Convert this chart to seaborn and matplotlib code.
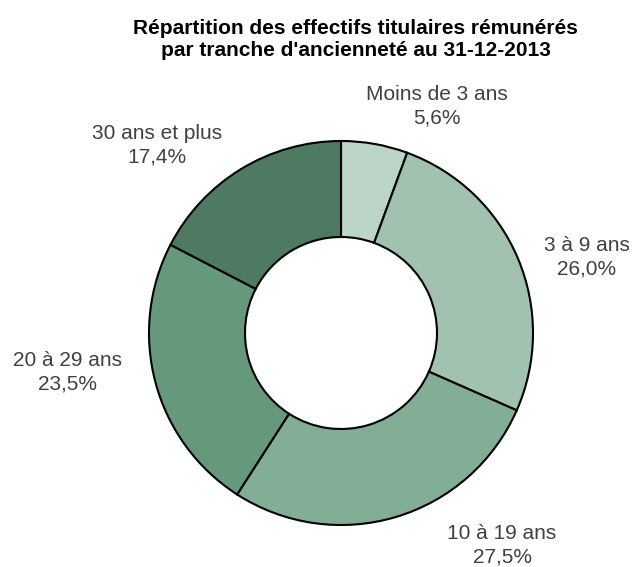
import matplotlib
matplotlib.use("Agg")
import matplotlib.pyplot as plt
import seaborn as sns

sns.set_theme(style="white")
plt.rcParams['font.family'] = ['Liberation Sans', 'DejaVu Sans']

categories = ["Moins de 3 ans", "3 à 9 ans", "10 à 19 ans", "20 à 29 ans", "30 ans et plus"]
values = [5.6, 26.0, 27.5, 23.5, 17.4]
labels_pct = ["5,6%", "26,0%", "27,5%", "23,5%", "17,4%"]
colors = ["#BDD5C6", "#A0C2AE", "#82AE95", "#66997B", "#4F7A62"]
label_pos = [(0.50, 1.182), (1.281, 0.396), (0.839, -1.104), (-1.427, -0.203), (-0.958, 0.979)]
title_lines = ["Répartition des effectifs titulaires rémunérés",
               "par tranche d'ancienneté au 31-12-2013"]

W, H = 632, 567
cx, cy, r = 341, 333, 192
fig = plt.figure(figsize=(W / 100, H / 100), dpi=100)
fig.patch.set_facecolor("white")
ax = fig.add_axes([(cx - r) / W, (H - cy - r) / H, 2 * r / W, 2 * r / H])
ax.pie(values, colors=colors, startangle=90, counterclock=False,
       wedgeprops=dict(width=0.5, edgecolor="black", linewidth=1.5))
ax.set_xlim(-1, 1)
ax.set_ylim(-1, 1)
ax.set_aspect("equal")
ax.axis("off")

for cat, pct, (x, y) in zip(categories, labels_pct, label_pos):
    ax.text(x, y, f"{cat}\n{pct}", ha="center", va="center", fontsize=15,
            color="#404040", linespacing=1.32, clip_on=False)

for line, yb in zip(title_lines, [34, 56.5]):
    fig.text(355.5 / W, 1 - yb / H, line, ha="center", va="baseline",
             fontsize=15, fontweight="bold", color="black")

fig.savefig("out.png", dpi=100)
